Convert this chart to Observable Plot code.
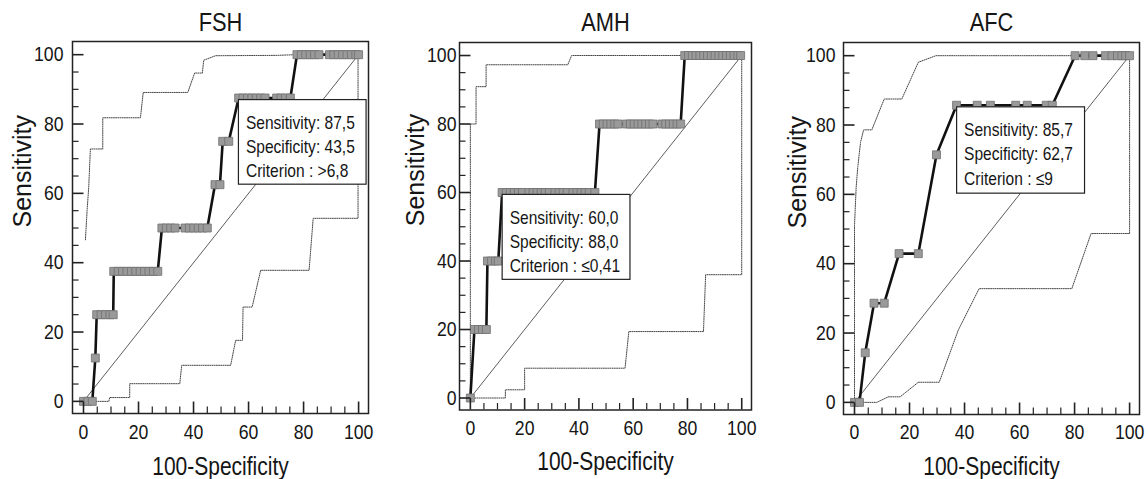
<!DOCTYPE html>
<html>
<head>
<meta charset="utf-8">
<script src="https://cdn.jsdelivr.net/npm/d3@7"></script>
<script src="https://cdn.jsdelivr.net/npm/@observablehq/plot@0.6"></script>
<style>
  html, body { margin: 0; padding: 0; background: #fff; }
  #wrap { position: relative; width: 1148px; height: 479px; overflow: hidden; }
  .panel { position: absolute; top: 0; }
</style>
</head>
<body>
<div id="wrap"></div>
<script>
// ---------- data ----------
const titles = ["FSH", "AMH", "AFC"];
const xTickLabels = [0, 20, 40, 60, 80, 100];
const yTickLabels = [0, 20, 40, 60, 80, 100];
const minorTicks = [5, 10, 15, 25, 30, 35, 45, 50, 55, 65, 70, 75, 85, 90, 95];
const diagonal = [[0, 0], [100, 100]];

// ROC points (100-Specificity, Sensitivity)
const fshRoc = [
  [0,0],[1.6,0],[3.2,0],
  [4.3,12.5],
  [4.8,25],[6.4,25],[8.0,25],[9.6,25],[10.8,25],
  [11.0,37.5],[12.6,37.5],[14.2,37.5],[15.8,37.5],[17.4,37.5],[19.0,37.5],[20.6,37.5],[22.2,37.5],[23.8,37.5],[25.4,37.5],[27.0,37.5],
  [28.5,50],[30.1,50],[31.7,50],[33.3,50],[36.9,50],[38.5,50],[40.1,50],[41.7,50],[43.3,50],[45.0,50],
  [47.8,62.5],[49.6,62.5],
  [50.6,75],[52.8,75],
  [56.4,87.5],[58.0,87.5],[59.6,87.5],[61.2,87.5],[62.8,87.5],[64.4,87.5],[66.0,87.5],[70.2,87.5],[71.8,87.5],[73.4,87.5],[75.2,87.5],
  [77.6,100],[79.2,100],[80.8,100],[82.4,100],[84.0,100],[85.6,100],[89.4,100],[91.0,100],[92.6,100],[94.2,100],[95.8,100],[97.4,100],[99.0,100],[100,100]
];
const fshUpper = [[0.7,46.6],[1.3,55],[1.9,61.8],[2.5,72.8],[7,72.8],[7,81.8],[20.7,81.8],[21.7,89.1],[37.9,89.1],[40.4,94.7],[43.2,94.7],[43.7,98.4],[48,99.7],[70.4,99.8],[77,100],[100,100]];
const fshLower = [[4.5,0],[9.2,0],[9.5,1.1],[16.8,1.1],[16.8,5.1],[35,5.1],[35.7,10.4],[53.5,10.4],[55.3,17.6],[57.8,17.6],[58,27.2],[61.3,27.2],[64.4,37.8],[82,37.8],[83.5,52.8],[99.8,52.8],[99.8,100]];

const amhRoc = [
  [0,0],
  [1.5,20],[3.0,20],[4.5,20],[5.9,20],
  [6.3,40],[7.8,40],[9.3,40],[10.3,40],
  [11.7,60],[13.2,60],[14.7,60],[16.2,60],[17.7,60],[19.2,60],[21.6,60],[23.1,60],[24.6,60],[26.1,60],[27.6,60],[29.1,60],[31.2,60],[32.7,60],[34.2,60],[35.7,60],[37.8,60],[39.3,60],[40.8,60],[42.3,60],[43.8,60],[45.9,60],
  [47.6,80],[49.0,80],[50.4,80],[51.8,80],[53.2,80],[54.4,80],[57.6,80],[59.0,80],[60.4,80],[61.8,80],[63.2,80],[64.6,80],[66.0,80],[67.3,80],[70.6,80],[72.0,80],[73.4,80],[74.8,80],[76.2,80],[77.5,80],
  [79.0,100],[80.4,100],[81.8,100],[83.2,100],[84.6,100],[86.0,100],[87.4,100],[88.8,100],[90.2,100],[91.6,100],[93.0,100],[94.4,100],[95.8,100],[97.2,100],[98.6,100],[99.6,100]
];
const amhUpper = [[0,0],[0,80],[2.1,80],[2.1,90.9],[5.8,90.9],[5.8,97.3],[35.9,97.3],[37.3,100],[100,100]];
const amhLower = [[0,0],[12.9,0],[12.9,2.4],[20,2.4],[20,8.7],[57,8.7],[58.4,19.4],[85.9,19.4],[86.7,36],[100,36],[100,100]];

const afcRoc = [
  [0,0],[1.8,0],[3.9,14.3],[7.1,28.6],[10.8,28.6],[16.2,42.9],[23.2,42.9],[29.8,71.4],
  [37.1,85.7],[44.6,85.7],[49.4,85.7],[58.6,85.7],[62.8,85.7],[69.7,85.7],[71.9,85.7],
  [80.2,100],[83.7,100],[86.7,100],[91.2,100],[93.6,100],[95.6,100],[97.2,100],[98.6,100],[100,100]
];
const afcUpper = [[0,0],[0,51],[0.6,62],[1.2,68],[2.2,75],[3.3,78.6],[6.3,78.6],[10.8,87.5],[17.2,87.5],[23.2,98.1],[29.6,100],[100,100]];
const afcLower = [[0,0],[8.1,0],[12.3,1.6],[16.6,1.6],[23.2,5.8],[30.8,5.8],[37.7,20.8],[45.3,32.8],[79,32.8],[86,48.7],[100,48.7],[100,100]];

const sensValues = ["87,5", "60,0", "85,7"];
const specValues = ["43,5", "88,0", "62,7"];
const criterionValues = [">6,8", "≤0,41", "≤9"];

// ---------- layout ----------
const font = '"Liberation Sans", Arial, Helvetica, sans-serif';
const H = 479;
const squeeze = 0.84; // horizontal text compression seen in the reference
const layout = [
  {left: 0,   width: 380, mL: 72, mR: 12, mT: 41, mB: 66,   yPad: 9, xPad: 11,   yLab: -49.5, xLab: 53.7, tDy: -18.5,
   box: {x1: 56.5, x2: 102.9, y1: 62.5, y2: 86.9}},
  {left: 380, width: 380, mL: 79, mR: 9,  mT: 42, mB: 69.5, yPad: 3, xPad: 10.5, yLab: -44,   xLab: 52.2, tDy: -19.5,
   box: {x1: 11.9, x2: 59.0, y1: 34.5, y2: 59.3}},
  {left: 760, width: 388, mL: 83, mR: 9,  mT: 42, mB: 65,   yPad: 8, xPad: 10,   yLab: -46,   xLab: 52.7, tDy: -19.5,
   box: {x1: 37.3, x2: 83.8, y1: 60.2, y2: 85.1}}
];
const rocs = [fshRoc, amhRoc, afcRoc];
const uppers = [fshUpper, amhUpper, afcUpper];
const lowers = [fshLower, amhLower, afcLower];
const majorTicks = xTickLabels;

const wrap = document.getElementById("wrap");
layout.forEach((p, i) => {
  const fw = p.width - p.mL - p.mR;
  const fh = H - p.mT - p.mB;
  const px = d => d[0], py = d => d[1];
  const boxText = `Sensitivity: ${sensValues[i]}\nSpecificity: ${specValues[i]}\nCriterion : ${criterionValues[i]}`;
  const chart = Plot.plot({
    width: p.width, height: H,
    marginLeft: p.mL, marginRight: p.mR, marginTop: p.mT, marginBottom: p.mB,
    x: {domain: [-4, 103.6]},
    y: {domain: [-3.5, 103.8]},
    style: {fontFamily: font, color: "#151515", background: "transparent", overflow: "visible"},
    marks: [
      Plot.line(diagonal, {x: px, y: py, stroke: "#333", strokeWidth: 0.8}),
      Plot.line(uppers[i], {x: px, y: py, stroke: "#444", strokeWidth: 1, strokeDasharray: "1,1.2"}),
      Plot.line(lowers[i], {x: px, y: py, stroke: "#444", strokeWidth: 1, strokeDasharray: "1,1.2"}),
      Plot.line(rocs[i], {x: px, y: py, stroke: "#111", strokeWidth: 2.6}),
      Plot.dot(rocs[i], {x: px, y: py, symbol: "square", r: 4.5, fill: "#9a9a9a", stroke: "#707070", strokeWidth: 0.8}),
      Plot.rect([p.box], {x1: "x1", x2: "x2", y1: "y1", y2: "y2", fill: "white", stroke: "#222", strokeWidth: 1.2}),
      Plot.text([boxText], {x: () => p.box.x1, y: () => p.box.y2, textAnchor: "start", lineAnchor: "top",
        dx: 7, dy: 12, fontSize: 18.5, lineHeight: 1.3, fill: "#151515"}),
      Plot.tickX(minorTicks, {x: d => d, insetTop: fh - 6.5, stroke: "#222", strokeWidth: 1.2}),
      Plot.tickX(majorTicks, {x: d => d, insetTop: fh - 11.5, stroke: "#222", strokeWidth: 1.6}),
      Plot.tickY(minorTicks, {y: d => d, insetRight: fw - 6.5, stroke: "#222", strokeWidth: 1.2}),
      Plot.tickY(majorTicks, {y: d => d, insetRight: fw - 11.5, stroke: "#222", strokeWidth: 1.6}),
      Plot.frame({stroke: "#222", strokeWidth: 1.5}),
      Plot.axisX(xTickLabels, {tickSize: 0, tickPadding: p.xPad, fontSize: 21, label: null}),
      Plot.axisY(yTickLabels, {tickSize: 0, tickPadding: p.yPad, fontSize: 21, label: null}),
      Plot.text([titles[i]], {frameAnchor: "top", lineAnchor: "middle", dy: p.tDy, fontSize: 26, fill: "#151515"}),
      Plot.text(["100-Specificity"], {frameAnchor: "bottom", lineAnchor: "middle", dy: p.xLab, fontSize: 25, fill: "#151515"}),
      Plot.text(["Sensitivity"], {frameAnchor: "left", lineAnchor: "middle", dx: p.yLab, rotate: -90, fontSize: 25, fill: "#151515"})
    ]
  });
  chart.classList.add("panel");
  chart.style.left = p.left + "px";
  wrap.appendChild(chart);
  // compress horizontal text like the reference's narrow lettering
  chart.querySelectorAll("text").forEach(t => {
    if ((t.getAttribute("transform") || "").includes("rotate")) return;
    const spans = t.querySelectorAll("tspan");
    const targets = spans.length ? Array.from(spans) : [t];
    targets.forEach(el => {
      const w = el.getComputedTextLength();
      if (w > 0) {
        el.setAttribute("textLength", (w * squeeze).toFixed(2));
        el.setAttribute("lengthAdjust", "spacingAndGlyphs");
      }
    });
  });
});
</script>
</body>
</html>
